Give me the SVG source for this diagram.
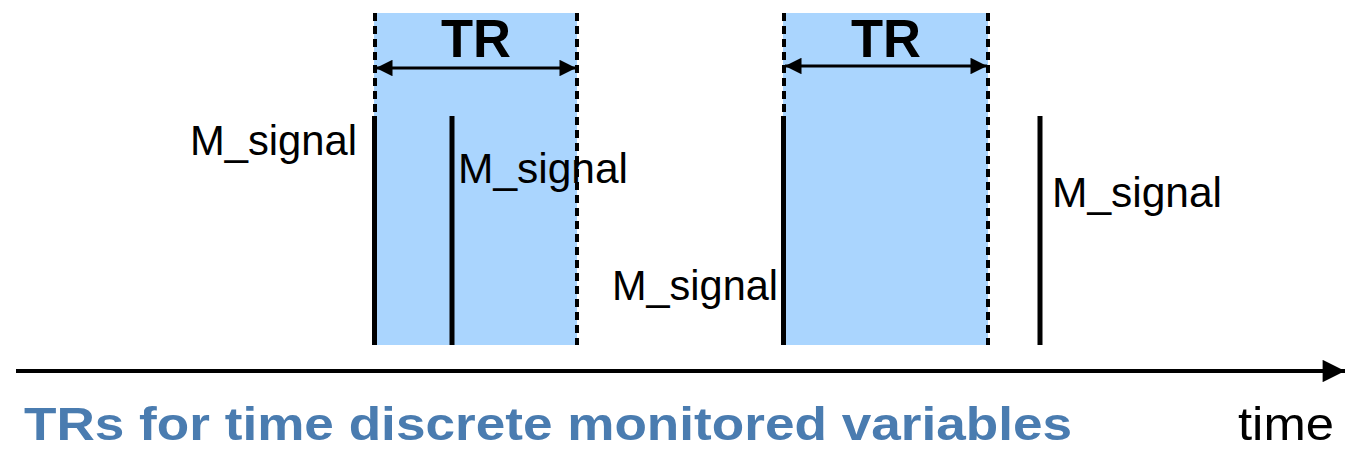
<svg xmlns="http://www.w3.org/2000/svg" width="1346" height="450" viewBox="0 0 1346 450">
  <style>
    .range { fill: #aad5fe; }
    .edge { stroke: #000; stroke-width: 4; stroke-dasharray: 8 5; fill: none; }
    .span { stroke: #000; stroke-width: 3; fill: none; }
    .tick { stroke: #000; stroke-width: 5; }
    .axis { stroke: #000; stroke-width: 4; fill: none; }
    .tr { font-family: "Liberation Sans", Arial, sans-serif; font-weight: bold; font-size: 54px; fill: #000; text-anchor: middle; }
    .sig { font-family: "Liberation Sans", Arial, sans-serif; font-size: 42px; fill: #000; }
    .title { font-family: "Liberation Sans", Arial, sans-serif; font-weight: bold; font-size: 47px; fill: #4a7cb0; }
    .time { font-family: "Liberation Sans", Arial, sans-serif; font-size: 47px; fill: #000; }
  </style>
  <defs>
    <marker id="head" viewBox="0 0 10 10" refX="10" refY="5" markerWidth="8" markerHeight="5.5" markerUnits="strokeWidth" orient="auto-start-reverse">
      <path d="M0,0 L10,5 L0,10 Z" fill="#000"/>
    </marker>
    <marker id="axisHead" viewBox="0 0 10 10" refX="10" refY="5" markerWidth="7.5" markerHeight="5.6" markerUnits="strokeWidth" orient="auto">
      <path d="M0,0 L10,5 L0,10 Z" fill="#000"/>
    </marker>
  </defs>

  <!-- first time range -->
  <g id="range1">
    <rect class="range" x="374" y="13" width="203" height="332"/>
    <line class="edge" x1="375" y1="13" x2="375" y2="345"/>
    <line class="edge" x1="577" y1="13" x2="577" y2="345"/>
    <text class="tr" x="476" y="57" textLength="70" lengthAdjust="spacingAndGlyphs">TR</text>
  </g>

  <!-- second time range -->
  <g id="range2">
    <rect class="range" x="783" y="13" width="205" height="332"/>
    <line class="edge" x1="784" y1="13" x2="784" y2="345"/>
    <line class="edge" x1="988" y1="13" x2="988" y2="345"/>
    <text class="tr" x="886" y="57" textLength="70" lengthAdjust="spacingAndGlyphs">TR</text>
  </g>

  <!-- monitored signal samples -->
  <g id="signal1">
    <line class="tick" x1="374.5" y1="116" x2="374.5" y2="345"/>
    <text class="sig" x="190" y="155" textLength="167" lengthAdjust="spacingAndGlyphs">M_signal</text>
  </g>
  <g id="signal2">
    <line class="tick" x1="452" y1="116" x2="452" y2="345"/>
    <text class="sig" x="458" y="183" textLength="170" lengthAdjust="spacingAndGlyphs">M_signal</text>
  </g>
  <g id="signal3">
    <line class="tick" x1="783.5" y1="116" x2="783.5" y2="345"/>
    <text class="sig" x="612" y="300" textLength="166" lengthAdjust="spacingAndGlyphs">M_signal</text>
  </g>
  <g id="signal4">
    <line class="tick" x1="1040" y1="116" x2="1040" y2="345"/>
    <text class="sig" x="1052" y="207" textLength="170" lengthAdjust="spacingAndGlyphs">M_signal</text>
  </g>

  <!-- connectors: range spans and the time axis -->
  <g id="connectors">
    <line class="span" x1="376" y1="68" x2="576" y2="68" marker-start="url(#head)" marker-end="url(#head)"/>
    <line class="span" x1="785" y1="66" x2="987" y2="66" marker-start="url(#head)" marker-end="url(#head)"/>
    <line class="axis" x1="16" y1="371" x2="1345" y2="371" marker-end="url(#axisHead)"/>
  </g>

  <g id="labels">
    <text class="title" x="24" y="440" textLength="1048" lengthAdjust="spacingAndGlyphs">TRs for time discrete monitored variables</text>
    <text class="time" x="1238" y="440" textLength="96" lengthAdjust="spacingAndGlyphs">time</text>
  </g>
</svg>
